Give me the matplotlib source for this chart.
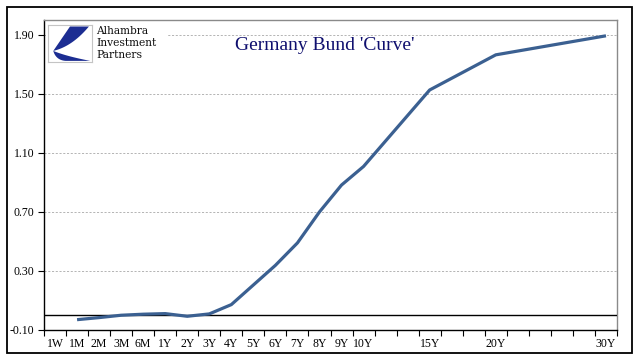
import numpy as np
import matplotlib
matplotlib.use('Agg')
import matplotlib.pyplot as plt
from matplotlib.patches import Rectangle, Polygon

# Category axis (blank slots keep the uneven spacing of the long end)
categories = ['1W', '1M', '2M', '3M', '6M', '1Y', '2Y', '3Y', '4Y', '5Y', '6Y',
              '7Y', '8Y', '9Y', '10Y', '', '', '15Y', '', '', '20Y',
              '', '', '', '', '30Y']
# Yields (%), NaN where there is no point
yields = [np.nan, -0.03, -0.016, 0.0, 0.007, 0.011, -0.007, 0.009, 0.072,
          0.205, 0.338, 0.49, 0.70, 0.882, 1.008, np.nan, np.nan, 1.526,
          np.nan, np.nan, 1.764, np.nan, np.nan, np.nan, np.nan, 1.893]
y_ticks = [-0.10, 0.30, 0.70, 1.10, 1.50, 1.90]

LINE_COLOR = '#3B6091'
TITLE_COLOR = '#0F0F6E'
LOGO_BLUE = '#1C2D92'
SERIF = ['Liberation Serif', 'DejaVu Serif']

W, H = 641, 361
fig = plt.figure(figsize=(W / 100, H / 100), dpi=100)
ax = fig.add_axes([44 / W, 1 - 330 / H, (617 - 44) / W, (330 - 20) / H])

x = np.arange(len(categories))
y = np.array(yields, dtype=float)
mask = ~np.isnan(y)
ax.plot(x[mask], y[mask], color=LINE_COLOR, lw=2.3, solid_joinstyle='round',
        solid_capstyle='butt', zorder=4)
ax.axhline(0, color='black', lw=1.0, zorder=3)

ax.set_xlim(-0.5, len(categories) - 0.5)
ax.set_ylim(-0.10, 2.0)

ax.set_yticks(y_ticks)
ax.set_yticklabels([f'{v:.2f}' for v in y_ticks], family=SERIF, fontsize=8.5)
ax.yaxis.grid(True, color='#a8a8a8', lw=0.6, ls=(0, (2.5, 2)))
ax.set_axisbelow(True)
# grid not at bottom tick
ax.get_ygridlines()[0].set_visible(False)

ax.set_xticks(x)
ax.set_xticklabels(categories, family=SERIF, fontsize=8.5)
ax.set_xticks(np.arange(-0.5, len(categories)), minor=True)
ax.tick_params(axis='x', which='major', length=0, pad=5.5)
ax.tick_params(axis='x', which='minor', length=4, width=0.8, color='black')
ax.tick_params(axis='y', length=4, width=0.8, color='black', pad=3)

for s in ['top', 'right']:
    ax.spines[s].set_color('#8a8a8a')
    ax.spines[s].set_linewidth(1.0)
for s in ['left', 'bottom']:
    ax.spines[s].set_color('black')
    ax.spines[s].set_linewidth(1.0)

# outer border
fig.patches.append(Rectangle((7 / W, 8 / H), 625 / W, 346 / H, transform=fig.transFigure,
                             fill=False, ec='black', lw=1.3, zorder=5))

# white block behind the logo (cuts the top gridline)
fig.patches.append(Rectangle((46 / W, 1 - 64 / H), 122 / W, 42 / H, transform=fig.transFigure,
                             fc='white', ec='none', zorder=1))

# logo square
lax = fig.add_axes([48 / W, 1 - 62 / H, 44 / W, 37 / H], zorder=3)
lax.set_xlim(0, 1)
lax.set_ylim(0, 1)
lax.set_xticks([])
lax.set_yticks([])
for s in lax.spines.values():
    s.set_color('#c4c4c4')
    s.set_linewidth(0.8)


def bezier(p0, c, p1, n=30):
    t = np.linspace(0, 1, n)[:, None]
    return (1 - t) ** 2 * np.array(p0) + 2 * (1 - t) * t * np.array(c) + t ** 2 * np.array(p1)


tip = (0.12, 0.30)
# upper wedge: straight left edge, curved right edge
upper = np.vstack([[0.50, 0.96], [0.93, 0.96], bezier((0.93, 0.96), (0.55, 0.42), tip)])
lax.add_patch(Polygon(upper, closed=True, fc=LOGO_BLUE, ec='none'))
# lower crescent
lower = np.vstack([bezier(tip, (0.18, 0.05), (0.40, 0.03)), [0.96, 0.03],
                   bezier((0.96, 0.03), (0.40, 0.16), tip)])
lax.add_patch(Polygon(lower, closed=True, fc=LOGO_BLUE, ec='none'))

for txt, yy in [('Alhambra', 30.5), ('Investment', 43), ('Partners', 55.5)]:
    fig.text(96 / W, 1 - yy / H, txt, family=['DejaVu Serif'], fontsize=7.7,
             color='#111111', ha='left', va='center', zorder=6)

fig.text(325 / W, 1 - 45 / H, "Germany Bund 'Curve'", family=SERIF, fontsize=14,
         color=TITLE_COLOR, ha='center', va='center', zorder=6)

fig.savefig('out.png', dpi=100)
